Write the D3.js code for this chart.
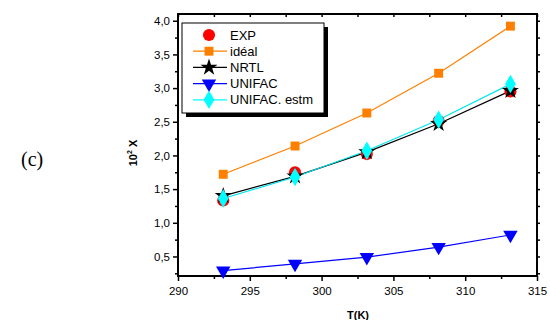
<!DOCTYPE html>
<html>
<head>
<meta charset="utf-8">
<script src="https://cdn.jsdelivr.net/npm/d3@7"></script>
<style>
  body { margin: 0; background: #fff; }
</style>
</head>
<body>
<svg width="550" height="320" font-family="Arial, 'Liberation Sans', sans-serif"></svg>
<script>
// temperatures (K)
var temps = [293.15, 298.15, 303.15, 308.15, 313.15];
// solubility values, 10^2 x
var expVals = [1.33, 1.75, 2.02, 2.51, 2.95];
var idealVals = [1.72, 2.14, 2.63, 3.22, 3.92];
var nrtlVals = [1.40, 1.69, 2.05, 2.47, 2.96];
var unifacVals = [0.29, 0.39, 0.49, 0.64, 0.82];
var estmVals = [1.36, 1.68, 2.07, 2.53, 3.06];
var xTicks = [290, 295, 300, 305, 310, 315];
var yTicks = [0.5, 1.0, 1.5, 2.0, 2.5, 3.0, 3.5, 4.0];
var seriesNames = ["EXP", "idéal", "NRTL", "UNIFAC", "UNIFAC. estm"];

var svg = d3.select("svg"),
    plotL = 178, plotR = 537, plotT = 14, plotB = 276;

var x = d3.scaleLinear().domain([290, 315]).range([plotL, plotR]);
var y = d3.scaleLinear().domain([0.21, 4.1]).range([plotB, plotT]);
var fmt = function (d) { return d3.format(".1f")(d).replace(".", ","); };

var series = [
    { name: seriesNames[0], vals: expVals, color: "#ff0000", sym: d3.symbolCircle, size: 115, line: false, rot: 0 },
    { name: seriesNames[1], vals: idealVals, color: "#ff8000", sym: d3.symbolSquare, size: 80, line: true, rot: 0 },
    { name: seriesNames[2], vals: nrtlVals, color: "#000000", sym: d3.symbolStar, size: 90, line: true, rot: 0 },
    { name: seriesNames[3], vals: unifacVals, color: "#0000ff", sym: d3.symbolTriangle, size: 90, line: true, rot: 180 },
    { name: seriesNames[4], vals: estmVals, color: "#00ffff", sym: d3.symbolDiamond, size: 100, line: true, rot: 0 }
];

// axes
svg.append("g").attr("transform", "translate(0," + plotB + ")")
    .call(d3.axisBottom(x).tickValues(xTicks).tickSize(5).tickPadding(6).tickFormat(d3.format("d")));
svg.append("g").attr("transform", "translate(0," + plotB + ")")
    .call(d3.axisBottom(x).tickValues(d3.range(292.5, 315, 5)).tickSize(3).tickFormat(""));
svg.append("g").attr("transform", "translate(0," + plotT + ")")
    .call(d3.axisBottom(x).tickValues(d3.range(290, 315.1, 2.5)).tickSize(3).tickFormat(""));
svg.append("g").attr("transform", "translate(" + plotL + ",0)")
    .call(d3.axisLeft(y).tickValues(yTicks).tickSize(5).tickPadding(3).tickFormat(fmt));
svg.append("g").attr("transform", "translate(" + plotL + ",0)")
    .call(d3.axisLeft(y).tickValues(d3.range(0.25, 4.1, 0.5)).tickSize(3).tickFormat(""));
svg.append("g").attr("transform", "translate(" + plotR + ",0)")
    .call(d3.axisRight(y).tickValues(d3.range(0.25, 4.1, 0.25)).tickSize(3).tickFormat(""));

svg.selectAll(".domain").remove();
svg.selectAll(".tick line").attr("stroke", "#000").attr("stroke-width", 1.5);
svg.selectAll(".tick text").attr("font-size", 11.5).attr("fill", "#000")
    .attr("font-family", "Arial, 'Liberation Sans', sans-serif");

svg.append("rect")
    .attr("x", plotL).attr("y", plotT)
    .attr("width", plotR - plotL).attr("height", plotB - plotT)
    .attr("fill", "none").attr("stroke", "#000").attr("stroke-width", 2);

// lines and markers
var line = d3.line().x(function (d, i) { return x(temps[i]); }).y(function (d) { return y(d); });
series.forEach(function (s) {
    if (s.line) {
        svg.append("path").datum(s.vals)
            .attr("d", line).attr("fill", "none")
            .attr("stroke", s.color == "#00ffff" ? "#00e5ee" : s.color).attr("stroke-width", 1.2);
    }
});
series.forEach(function (s) {
    svg.selectAll(null).data(s.vals).enter().append("path")
        .attr("d", d3.symbol().type(s.sym).size(s.size))
        .attr("transform", function (d, i) {
            return "translate(" + x(temps[i]) + "," + y(d) + ") rotate(" + s.rot + ")";
        })
        .attr("fill", s.color);
});

// legend
var lx = 182, ly = 23, lw = 142, lh = 90;
svg.append("rect").attr("x", lx + 4).attr("y", ly + 4).attr("width", lw).attr("height", lh).attr("fill", "#000");
svg.append("rect").attr("x", lx).attr("y", ly).attr("width", lw).attr("height", lh)
    .attr("fill", "#fff").attr("stroke", "#000").attr("stroke-width", 1);
series.forEach(function (s, i) {
    var cy = 35 + i * 16.2;
    if (s.line) {
        svg.append("line").attr("x1", 193).attr("x2", 227).attr("y1", cy).attr("y2", cy)
            .attr("stroke", s.color).attr("stroke-width", 1.2);
    }
    svg.append("path")
        .attr("d", d3.symbol().type(s.sym).size(s.size))
        .attr("transform", "translate(209," + cy + ") rotate(" + s.rot + ")")
        .attr("fill", s.color);
    svg.append("text").attr("x", 230).attr("y", cy).attr("dy", "0.36em")
        .attr("font-size", 13).text(s.name);
});

// axis titles
svg.append("text").attr("x", 358).attr("y", 319)
    .attr("text-anchor", "middle").attr("font-size", 11).attr("font-weight", "bold").text("T(K)");
var yl = svg.append("text").attr("transform", "translate(137,153) rotate(-90)")
    .attr("text-anchor", "middle").attr("font-size", 11).attr("font-weight", "bold");
yl.append("tspan").text("10");
yl.append("tspan").attr("font-size", 7).attr("dy", -5).text("2");
yl.append("tspan").attr("dy", 5).text(" X");

svg.append("text").attr("x", 21).attr("y", 166)
    .attr("font-family", "'Liberation Serif', 'DejaVu Serif', serif")
    .attr("font-size", 20).text("(c)");
</script>
</body>
</html>
